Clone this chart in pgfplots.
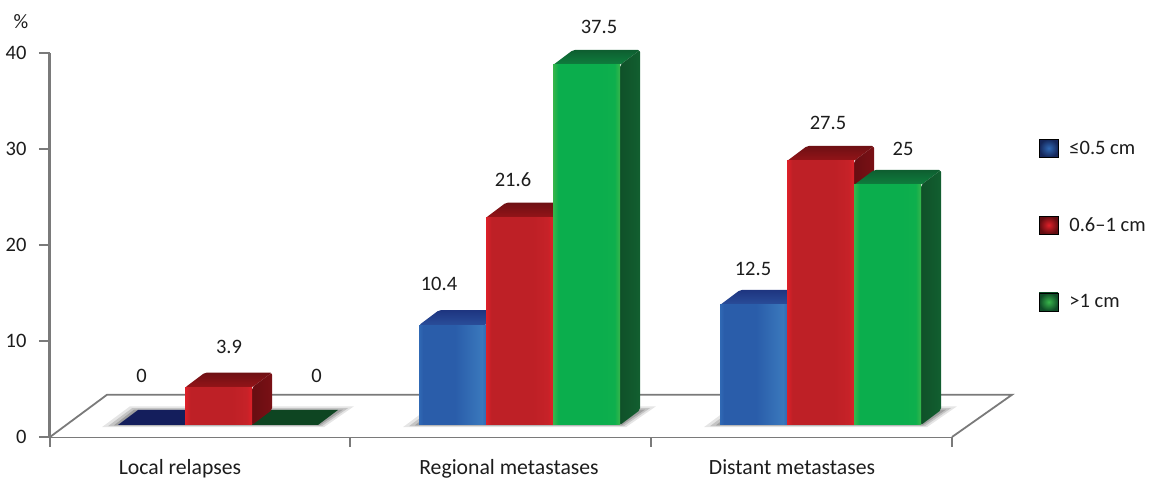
\documentclass[border=0pt]{standalone}
\usepackage{fontspec}
\setmainfont{Carlito}
\usepackage{pgfplots}
\pgfplotsset{compat=1.18}

\definecolor{axisgray}{HTML}{7A7A7A}
\definecolor{inktext}{HTML}{1C1C1C}
\definecolor{blueE}{HTML}{3069B4}\definecolor{blueM}{HTML}{2A5DAA}\definecolor{blueR}{HTML}{3A78BC}
\definecolor{blueT}{HTML}{1E3580}\definecolor{blueB}{HTML}{2A4E9A}\definecolor{blueS}{HTML}{1A3070}
\definecolor{redE}{HTML}{DE2029}\definecolor{redM}{HTML}{BE2026}\definecolor{redR}{HTML}{C62228}
\definecolor{redT}{HTML}{6E1014}\definecolor{redB}{HTML}{951418}\definecolor{redS}{HTML}{7A1015}
\definecolor{grnE}{HTML}{38B54B}\definecolor{grnM}{HTML}{0BAE4D}\definecolor{grnR}{HTML}{0EAF4D}
\definecolor{grnT}{HTML}{0E5E30}\definecolor{grnB}{HTML}{0E7F3E}\definecolor{grnS}{HTML}{125F30}
\definecolor{navyflat}{HTML}{141E5C}
\definecolor{greenflat}{HTML}{0E4522}

% Front faces: a lit rim on both edges around a flat body (bar edges sit at 25bp and 75bp)
\pgfdeclarehorizontalshading{frontblue}{100bp}{color(0bp)=(blueE); color(25bp)=(blueE); color(28bp)=(blueM); color(52bp)=(blueM); color(72bp)=(blueR); color(75bp)=(blueE); color(100bp)=(blueE)}
\pgfdeclarehorizontalshading{frontred}{100bp}{color(0bp)=(redE); color(25bp)=(redE); color(29bp)=(redM); color(60bp)=(redM); color(71bp)=(redR); color(75bp)=(redE); color(100bp)=(redE)}
\pgfdeclarehorizontalshading{frontgrn}{100bp}{color(0bp)=(grnE); color(25bp)=(grnE); color(29bp)=(grnM); color(60bp)=(grnM); color(71bp)=(grnR); color(75bp)=(grnE); color(100bp)=(grnE)}

% Front width and depth offsets of a bar, in axis units
\def\barw{67}
\def\depthx{20}
\def\depthy{1.5625}

% #1 left edge, #2 value, #3 colour prefix
\newcommand{\solidbar}[3]{%
  \pgfmathsetmacro{\xr}{#1+\barw}%
  \pgfmathsetmacro{\xc}{#1+\barw/2}%
  \pgfmathsetmacro{\xbl}{#1+\depthx}%
  \pgfmathsetmacro{\xbr}{\xr+\depthx}%
  \pgfmathsetmacro{\yb}{#2+\depthy}%
  \pgfmathsetmacro{\ybase}{\depthy}%
  \addplot[forget plot, draw=none, rounded corners=2pt, top color=#3T, bottom color=#3B]
    coordinates {(#1,#2) (\xr,#2) (\xbr,\yb) (\xbl,\yb)} -- cycle;
  \addplot[forget plot, draw=none, rounded corners=2pt, left color=#3S!85!black, right color=#3S]
    coordinates {(\xr,0) (\xbr,\ybase) (\xbr,\yb) (\xr,#2)} -- cycle;
  \addplot[forget plot, ybar, bar width=67pt, bar shift=0pt, draw=none, shade, shading=front#3]
    coordinates {(\xc,#2)};
}

% A zero value leaves only the flat footprint; #1 left edge, #2 value, #3 colour
\newcommand{\flatbar}[3]{%
  \pgfmathsetmacro{\xr}{#1+\barw}%
  \pgfmathsetmacro{\xbl}{#1+\depthx}%
  \pgfmathsetmacro{\xbr}{\xr+\depthx}%
  \pgfmathsetmacro{\yb}{#2+\depthy}%
  \addplot[forget plot, draw=none, fill=#3]
    coordinates {(#1,#2) (\xr,#2) (\xbr,\yb) (\xbl,\yb)} -- cycle;
}

% Soft footprint on the floor; #1 left and #2 right end of a bar group
\newcommand{\groupshadow}[2]{%
  \pgfmathsetmacro{\sa}{#1-16}\pgfmathsetmacro{\sb}{#2+6}%
  \pgfmathsetmacro{\sc}{#2+36}\pgfmathsetmacro{\sd}{#1+12}%
  \addplot[forget plot, draw=none, fill=black, fill opacity=0.10]
    coordinates {(\sa,-0.22) (\sb,-0.22) (\sc,1.95) (\sd,1.95)} -- cycle;
  \pgfmathsetmacro{\sa}{#1-10}\pgfmathsetmacro{\sb}{#2+4}%
  \pgfmathsetmacro{\sc}{#2+30}\pgfmathsetmacro{\sd}{#1+14}%
  \addplot[forget plot, draw=none, fill=black, fill opacity=0.14]
    coordinates {(\sa,-0.12) (\sb,-0.12) (\sc,1.75) (\sd,1.75)} -- cycle;
  \pgfmathsetmacro{\sa}{#1-4}\pgfmathsetmacro{\sb}{#2+2}%
  \pgfmathsetmacro{\sc}{#2+25}\pgfmathsetmacro{\sd}{#1+16}%
  \addplot[forget plot, draw=none, fill=black, fill opacity=0.18]
    coordinates {(\sa,-0.03) (\sb,-0.03) (\sc,1.6) (\sd,1.6)} -- cycle;
}

\newcommand{\swatch}[1]{%
  \addlegendimage{legend image code/.code={
    \shade[inner color=#1E, outer color=#1S!80!black] (0pt,-9pt) rectangle (19pt,9pt);
  }}%
}

\pgfplotsset{
  chartbox/.style={
    scale only axis, width=902pt, height=384pt,
    xmin=50, xmax=952, ymin=0, ymax=40, clip=false, no marks}
}
\tikzset{
  valuelabel/.style={text=inktext, font=\fontsize{20.5}{24}\selectfont, anchor=center, inner sep=0pt}
}

\begin{document}
\begin{tikzpicture}[x=1pt,y=1pt]
\useasboundingbox (-50pt,-41pt) rectangle (1103pt,437pt);

% Axes, ticks and the floor plane
\begin{axis}[chartbox,
    axis x line=bottom, axis y line=left,
    axis line style={draw=axisgray, line width=1.8pt, -},
    y axis line style={line width=3pt},
    every tick/.style={draw=axisgray, line width=2.4pt},
    tick align=outside,
    major tick length=11pt, minor tick length=10pt,
    ytick={0,10,20,30,40},
    xtick={180,509,792},
    xticklabels={Local relapses,Regional metastases,Distant metastases},
    x tick style={draw=none},
    minor xtick={50,350,651,952},
    minor x tick style={draw=axisgray, line width=2.4pt},
    tick label style={text=inktext, font=\fontsize{20.5}{24}\selectfont},
    xticklabel style={font=\fontsize{21.7}{24}\selectfont, yshift=-8pt},
    yticklabel style={xshift=-9pt},
    /pgf/number format/assume math mode=true,
  ]
  \addplot[draw=axisgray, line width=1.8pt, fill=white]
    coordinates {(50,0) (107,4.4) (1012,4.4) (952,0)};
  \node[valuelabel] at (axis cs:21,43.3) {\%};
\end{axis}

% Bars stand on the floor plane, twelve units above the axis baseline
\begin{axis}[chartbox, at={(0pt,12pt)}, anchor=origin, hide axis,
    legend cell align=left,
    legend columns=1,
    legend style={at={(axis cs:1039,29.8)}, anchor=north west, draw=none, fill=none,
      font=\fontsize{20.5}{24}\selectfont, text=inktext,
      row sep=58.5pt, column sep=11pt, inner sep=0pt, outer sep=0pt,
      nodes={inner sep=0pt, anchor=west}},
  ]
  \groupshadow{118}{318}
  \groupshadow{419}{620}
  \groupshadow{720}{921}

  % Local relapses
  \flatbar{118}{0}{navyflat}
  \flatbar{251}{0}{greenflat}
  \solidbar{185}{3.9}{red}
  % Regional metastases
  \solidbar{419}{10.4}{blue}
  \solidbar{486}{21.6}{red}
  \solidbar{553}{37.5}{grn}
  % Distant metastases
  \solidbar{720}{12.5}{blue}
  \solidbar{787}{27.5}{red}
  \solidbar{854}{25}{grn}

  \node[valuelabel] at (axis cs:141.5,5.10) {0};
  \node[valuelabel] at (axis cs:229,8.13) {3.9};
  \node[valuelabel] at (axis cs:316.5,5.10) {0};
  \node[valuelabel] at (axis cs:439,14.69) {10.4};
  \node[valuelabel] at (axis cs:513,25.52) {21.6};
  \node[valuelabel] at (axis cs:599,41.46) {37.5};
  \node[valuelabel] at (axis cs:753,16.25) {12.5};
  \node[valuelabel] at (axis cs:828,31.46) {27.5};
  \node[valuelabel] at (axis cs:903,28.75) {25};

  \swatch{blue}\addlegendentry{≤0.5 cm}
  \swatch{red}\addlegendentry{0.6–1 cm}
  \swatch{grn}\addlegendentry{>1 cm}
\end{axis}
\end{tikzpicture}
\end{document}
